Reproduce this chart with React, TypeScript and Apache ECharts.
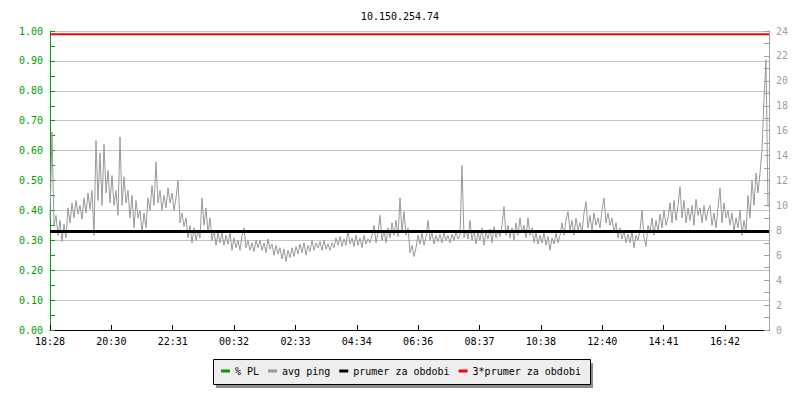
import React, { useEffect, useRef } from "react";
import * as echarts from "echarts";

const chartTitle = "10.150.254.74";
const timeLabels = ["18:28", "20:30", "22:31", "00:32", "02:33", "04:34", "06:36", "08:37", "10:38", "12:40", "14:41", "16:42"];
const seriesNames = ["% PL", "avg ping", "prumer za obdobi", "3*prumer za obdobi"];

// packet loss (no loss in the period)
const packetLoss: number[] = [];

// average ping (ms), one sample every step along the period
const avgPing = [
  9.0, 15.9, 8.4, 9.2, 7.6,
  8.8, 7.1, 8.5, 7.4, 9.8,
  8.6, 10.2, 9.0, 10.4, 9.3,
  10.0, 8.9, 10.6, 9.4, 11.0,
  9.7, 11.2, 7.6, 15.2, 10.4,
  14.2, 10.0, 14.9, 11.0, 12.8,
  10.2, 12.4, 10.0, 11.2, 9.2,
  15.5, 10.0, 12.3, 10.2, 11.2,
  9.0, 10.8, 8.2, 10.4, 9.0,
  9.6, 7.8, 9.4, 8.2, 10.6,
  9.6, 11.6, 10.0, 13.5, 10.2,
  11.2, 9.6, 10.8, 9.8, 11.4,
  10.2, 11.0, 9.6, 10.6, 12.0,
  8.6, 9.4, 8.3, 9.0, 7.4,
  8.4, 7.0, 8.2, 7.2, 8.0,
  7.4, 10.6, 8.4, 9.8, 7.8,
  9.0, 7.2, 8.0, 6.8, 7.8,
  7.0, 7.8, 6.8, 7.6, 6.9,
  7.8, 6.4, 7.4, 6.6, 7.2,
  6.4, 7.6, 8.2, 6.6, 7.2,
  6.4, 7.0, 6.3, 7.2, 6.6,
  7.2, 6.4, 7.0, 6.2, 7.3,
  6.5, 6.9, 6.0, 6.8, 6.1,
  6.6, 5.7, 6.5, 5.5, 6.4,
  5.8, 6.6, 5.9, 6.7, 6.1,
  6.9, 6.2, 7.0, 6.0, 6.8,
  6.3, 7.2, 6.4, 7.0, 6.6,
  7.1, 6.4, 7.2, 6.5, 6.9,
  6.4, 7.0, 6.6, 7.4, 6.8,
  7.5, 6.7, 7.3, 6.8, 8.0,
  6.9, 7.4, 6.7, 7.6, 6.8,
  7.4, 6.6, 7.6, 6.9, 7.3,
  7.0, 7.6, 8.4, 7.0, 7.8,
  9.2, 7.2, 8.0, 7.0, 8.2,
  7.4, 8.6, 7.6, 8.8, 7.5,
  10.6, 7.8, 9.5, 7.6, 8.2,
  6.2, 6.8, 5.9, 6.6, 7.6,
  6.9, 7.8, 6.8, 7.5, 8.8,
  7.2, 7.8, 6.9, 7.6, 7.1,
  7.7, 7.0, 7.8, 7.2, 7.6,
  7.0, 7.7, 7.2, 7.9, 7.3,
  7.6, 13.2, 7.4, 8.0, 7.3,
  8.8, 7.2, 8.0, 6.9, 7.8,
  7.2, 8.2, 6.8, 7.9, 7.3,
  8.1, 7.0, 8.3, 7.4, 8.0,
  7.5, 8.4, 9.9, 7.6, 8.4,
  7.4, 8.2, 7.2, 8.6, 7.6,
  9.0, 7.8, 8.4, 7.4, 9.0,
  7.6, 8.2, 7.0, 7.8, 6.9,
  7.6, 7.0, 7.8, 6.8, 7.5,
  6.4, 7.4, 6.9, 7.8, 7.0,
  7.6, 8.6, 7.6, 8.8, 9.5,
  8.0, 8.8, 7.6, 9.0, 8.0,
  8.6, 7.8, 9.4, 10.3, 8.2,
  9.2, 8.0, 9.4, 8.4, 9.0,
  8.2, 9.6, 10.6, 8.6, 9.4,
  8.4, 9.0, 7.8, 8.6, 7.4,
  8.2, 7.3, 7.9, 7.0, 7.7,
  7.0, 7.9, 6.6, 7.6, 7.2,
  8.0, 9.6, 7.4, 6.7, 8.4,
  7.8, 9.0, 7.6, 8.8, 7.9,
  9.3, 8.2, 9.6, 8.4, 9.0,
  10.2, 8.6, 10.4, 8.8, 10.0,
  11.5, 9.0, 10.4, 8.6, 9.8,
  8.8, 10.0, 8.4, 10.5, 9.2,
  9.8, 8.6, 10.0, 8.8, 9.6,
  10.0, 8.4, 9.4, 8.2, 9.8,
  11.4, 8.6, 10.2, 9.0, 9.6,
  8.4, 9.4, 7.9, 9.0, 8.2,
  9.6, 7.6, 8.8, 7.8, 10.8,
  9.0, 12.0, 10.0, 12.6, 11.0,
  12.6, 14.4, 18.6, 21.7, 9.9,
];

const periodAverage = 7.91;
const tripleAverage = 3 * periodAverage;

const axisSpan = 359.5; // number of sample steps across the plot
const labelStep = 30.68; // sample steps between time labels

const MONO = "DejaVu Sans Mono";
const GREEN = "#00a000";
const GREY_AXIS = "#a0a0a0";

export default function App() {
  const ref = useRef<HTMLDivElement>(null);

  useEffect(() => {
    if (!ref.current) return;
    const chart = echarts.init(ref.current, undefined, { renderer: "svg" });

    const option: any = {
      animation: false,
      backgroundColor: "#ffffff",
      title: {
        text: chartTitle,
        left: "center",
        top: 6,
        textStyle: { fontFamily: MONO, fontSize: 10, fontWeight: "normal", color: "#000" },
      },
      grid: { left: 50, right: 31, top: 31, bottom: 70 },
      legend: {
        data: seriesNames,
        left: 221,
        top: 366,
        z: 100,
        icon: "rect",
        itemWidth: 9,
        itemHeight: 3,
        itemGap: 9,
        padding: 0,
        textStyle: { fontFamily: MONO, fontSize: 10, color: "#000" },
      },
      graphic: [
        { type: "rect", z: 1, shape: { x: 216, y: 363, width: 377, height: 25 }, style: { fill: "#8c8c8c" } },
        {
          type: "rect",
          z: 2,
          shape: { x: 213.5, y: 359.5, width: 377, height: 25 },
          style: { fill: "#eeeeee", stroke: "#000", lineWidth: 1 },
        },
      ],
      xAxis: {
        type: "value",
        min: 0,
        max: axisSpan,
        interval: labelStep,
        axisLine: { show: true, lineStyle: { color: "#000", width: 1 } },
        axisTick: { show: true, inside: true, length: 5, lineStyle: { color: "#000" } },
        splitLine: { show: false },
        axisLabel: {
          color: "#000",
          fontFamily: MONO,
          fontSize: 10,
          margin: 6,
          showMaxLabel: false,
          formatter: (v: number) => {
            const k = Math.round(v / labelStep);
            if (Math.abs(v - k * labelStep) > 0.01) return "";
            return timeLabels[k] ?? "";
          },
        },
      },
      yAxis: [
        {
          type: "value",
          position: "left",
          min: 0,
          max: 1,
          interval: 0.1,
          axisLine: { show: true, lineStyle: { color: GREEN, width: 1 } },
          axisTick: { show: true, inside: true, length: 5, lineStyle: { color: GREEN } },
          minorTick: { show: true, splitNumber: 2, length: 5, lineStyle: { color: GREEN } },
          splitLine: { show: true, lineStyle: { color: "#c4c4c4", width: 1 } },
          axisLabel: {
            color: GREEN,
            fontFamily: MONO,
            fontSize: 10,
            margin: 7,
            formatter: (v: number) => v.toFixed(2),
          },
        },
        {
          type: "value",
          position: "right",
          min: 0,
          max: 24,
          interval: 2,
          axisLine: { show: true, lineStyle: { color: GREY_AXIS, width: 1 } },
          axisTick: { show: true, inside: true, length: 5, lineStyle: { color: GREY_AXIS } },
          minorTick: { show: true, splitNumber: 2, length: 5, lineStyle: { color: GREY_AXIS } },
          splitLine: { show: false },
          axisLabel: { color: GREY_AXIS, fontFamily: MONO, fontSize: 10, margin: 7 },
        },
      ],
      series: [
        {
          name: seriesNames[0],
          type: "line",
          yAxisIndex: 0,
          data: packetLoss.map((v, i) => [i, v]),
          showSymbol: false,
          symbol: "none",
          itemStyle: { color: GREEN },
          lineStyle: { color: GREEN, width: 1 },
          z: 3,
        },
        {
          name: seriesNames[1],
          type: "line",
          yAxisIndex: 1,
          data: avgPing.map((v, i) => [i, v]),
          showSymbol: false,
          symbol: "none",
          itemStyle: { color: "#999999" },
          lineStyle: { color: "#999999", width: 1 },
          z: 3,
        },
        {
          name: seriesNames[2],
          type: "line",
          yAxisIndex: 1,
          data: [[0, periodAverage], [axisSpan, periodAverage]],
          showSymbol: false,
          symbol: "none",
          itemStyle: { color: "#000000" },
          lineStyle: { color: "#000000", width: 3 },
          z: 4,
        },
        {
          name: seriesNames[3],
          type: "line",
          yAxisIndex: 1,
          data: [[0, tripleAverage], [axisSpan, tripleAverage]],
          showSymbol: false,
          symbol: "none",
          itemStyle: { color: "#ff0000" },
          lineStyle: { color: "#ff0000", width: 2 },
          z: 4,
        },
      ],
    };

    chart.setOption(option);
    return () => chart.dispose();
  }, []);

  return (
    <div
      ref={ref}
      style={{ position: "absolute", left: 0, top: 0, width: 800, height: 400 }}
    />
  );
}
